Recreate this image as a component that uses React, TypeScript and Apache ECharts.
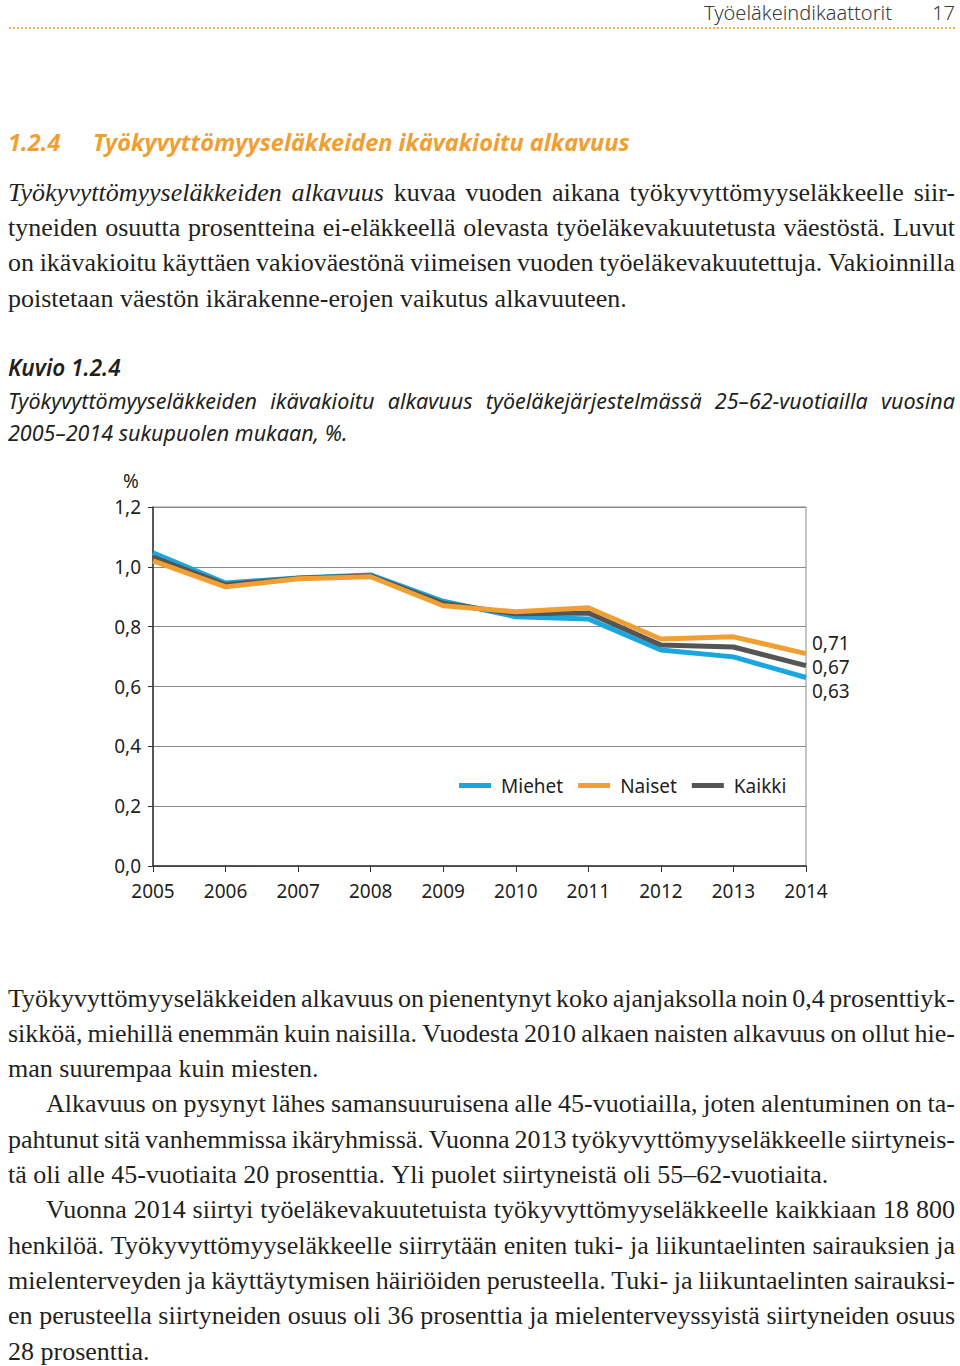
import React, { useEffect, useRef } from "react";
import * as echarts from "echarts";

const years = ["2005", "2006", "2007", "2008", "2009", "2010", "2011", "2012", "2013", "2014"];
const miehet = [1.047, 0.946, 0.963, 0.973, 0.885, 0.833, 0.826, 0.722, 0.699, 0.63];
const naiset = [1.02, 0.933, 0.96, 0.967, 0.87, 0.85, 0.863, 0.759, 0.766, 0.71];
const kaikki = [1.033, 0.94, 0.962, 0.97, 0.878, 0.843, 0.846, 0.739, 0.732, 0.67];
const seriesNames = ["Miehet", "Naiset", "Kaikki"];

const headerText = "Työeläkeindikaattorit";
const pageNumber = "17";
const sectionNumber = "1.2.4";
const sectionTitle = "Työkyvyttömyyseläkkeiden ikävakioitu alkavuus";
const figureLabel = "Kuvio 1.2.4";
const captionLines = [
  "Työkyvyttömyyseläkkeiden ikävakioitu alkavuus työeläkejärjestelmässä 25–62-vuotiailla vuosina",
  "2005–2014 sukupuolen mukaan, %.",
];
// [text, italicPrefix, indent, justify]
const introLines: [string, string, boolean, boolean][] = [
  ["kuvaa vuoden aikana työkyvyttömyyseläkkeelle siir-", "Työkyvyttömyyseläkkeiden alkavuus", false, true],
  ["tyneiden osuutta prosentteina ei-eläkkeellä olevasta työeläkevakuutetusta väestöstä. Luvut", "", false, true],
  ["on ikävakioitu käyttäen vakioväestönä viimeisen vuoden työeläkevakuutettuja. Vakioinnilla", "", false, true],
  ["poistetaan väestön ikärakenne-erojen vaikutus alkavuuteen.", "", false, false],
];
const bodyLines: [string, string, boolean, boolean][] = [
  ["Työkyvyttömyyseläkkeiden alkavuus on pienentynyt koko ajanjaksolla noin 0,4 prosenttiyk-", "", false, true],
  ["sikköä, miehillä enemmän kuin naisilla. Vuodesta 2010 alkaen naisten alkavuus on ollut hie-", "", false, true],
  ["man suurempaa kuin miesten.", "", false, false],
  ["Alkavuus on pysynyt lähes samansuuruisena alle 45-vuotiailla, joten alentuminen on ta-", "", true, true],
  ["pahtunut sitä vanhemmissa ikäryhmissä. Vuonna 2013 työkyvyttömyyseläkkeelle siirtyneis-", "", false, true],
  ["tä oli alle 45-vuotiaita 20 prosenttia. Yli puolet siirtyneistä oli 55–62-vuotiaita.", "", false, false],
  ["Vuonna 2014 siirtyi työeläkevakuutetuista työkyvyttömyyseläkkeelle kaikkiaan 18 800", "", true, true],
  ["henkilöä. Työkyvyttömyyseläkkeelle siirrytään eniten tuki- ja liikuntaelinten sairauksien ja", "", false, true],
  ["mielenterveyden ja käyttäytymisen häiriöiden perusteella. Tuki- ja liikuntaelinten sairauksi-", "", false, true],
  ["en perusteella siirtyneiden osuus oli 36 prosenttia ja mielenterveyssyistä siirtyneiden osuus", "", false, true],
  ["28 prosenttia.", "", false, false],
];

const SERIF = '"Liberation Serif", "DejaVu Serif", serif';
const SANS = '"Noto Sans", "Open Sans", sans-serif';
const TEXT_COLOR = "#231f20";
const ORANGE = "#f0a033";
const BLUE = "#1aa7e0";
const GRAY = "#555555";

let measureCtx: CanvasRenderingContext2D | null = null;
function measure(text: string, font: string): number {
  if (!measureCtx) measureCtx = document.createElement("canvas").getContext("2d");
  if (!measureCtx) return text.length * 10;
  measureCtx.font = font;
  return measureCtx.measureText(text).width;
}

type Word = { w: string; italic: boolean };

function lineElements(
  words: Word[],
  x0: number,
  x1: number,
  y: number,
  size: number,
  family: string,
  justify: boolean,
  baseItalic: boolean,
  weight: string,
  color: string
): any[] {
  const fontOf = (it: boolean) => `${it ? "italic " : ""}${weight} ${size}px ${family}`;
  const widths = words.map((wd) => measure(wd.w, fontOf(wd.italic || baseItalic)));
  const total = widths.reduce((a, b) => a + b, 0);
  const spaceW = measure(" ", fontOf(baseItalic));
  const gap = justify && words.length > 1 ? (x1 - x0 - total) / (words.length - 1) : spaceW;
  const els: any[] = [];
  let x = x0;
  words.forEach((wd, k) => {
    els.push({
      type: "text",
      x,
      y,
      style: {
        text: wd.w,
        fontSize: size,
        fontFamily: family,
        fontStyle: wd.italic || baseItalic ? "italic" : "normal",
        fontWeight: weight,
        fill: color,
        align: "left",
        verticalAlign: "middle",
        textAlign: "left",
        textVerticalAlign: "middle",
      },
    });
    x += widths[k] + gap;
  });
  return els;
}

function toWords(text: string, italicPrefix: string): Word[] {
  const out: Word[] = [];
  italicPrefix.split(" ").filter(Boolean).forEach((w) => out.push({ w, italic: true }));
  text.split(" ").filter(Boolean).forEach((w) => out.push({ w, italic: false }));
  return out;
}

const fmt = (v: number, d: number) => v.toFixed(d).replace(".", ",");

export default function App() {
  const ref = useRef<HTMLDivElement>(null);
  useEffect(() => {
    if (!ref.current) return;
    const chart = echarts.init(ref.current, undefined, { renderer: "svg" });
    const graphics: any[] = [];

    // header
    graphics.push({
      type: "text",
      x: 892,
      y: 12,
      style: { text: headerText, fontSize: 20, fontFamily: SANS, fontWeight: 300, fill: "#3a3a3a", align: "right", verticalAlign: "middle", textAlign: "right", textVerticalAlign: "middle" },
    });
    graphics.push({
      type: "text",
      x: 955,
      y: 12,
      style: { text: pageNumber, fontSize: 20, fontFamily: SANS, fontWeight: 300, fill: "#3a3a3a", align: "right", verticalAlign: "middle", textAlign: "right", textVerticalAlign: "middle" },
    });
    graphics.push({
      type: "line",
      shape: { x1: 9, y1: 28, x2: 955, y2: 28 },
      style: { stroke: "#efb44f", lineWidth: 2, lineDash: [2, 2] },
    });

    // section title
    graphics.push({
      type: "text",
      x: 8,
      y: 142,
      style: { text: sectionNumber, fontSize: 23.5, fontFamily: SANS, fontWeight: "bold", fontStyle: "italic", fill: ORANGE, align: "left", verticalAlign: "middle", textAlign: "left", textVerticalAlign: "middle" },
    });
    graphics.push({
      type: "text",
      x: 93,
      y: 142,
      style: { text: sectionTitle, fontSize: 23.5, fontFamily: SANS, fontWeight: "bold", fontStyle: "italic", fill: ORANGE, align: "left", verticalAlign: "middle", textAlign: "left", textVerticalAlign: "middle" },
    });

    // intro paragraph
    introLines.forEach((ln, i) => {
      graphics.push(
        ...lineElements(toWords(ln[0], ln[1]), ln[2] ? 46 : 8, 955, 192 + i * 35.4, 26, SERIF, ln[3], false, "normal", TEXT_COLOR)
      );
    });

    // figure label + caption
    graphics.push({
      type: "text",
      x: 8,
      y: 367,
      style: { text: figureLabel, fontSize: 22.5, fontFamily: SANS, fontWeight: 600, fontStyle: "italic", fill: TEXT_COLOR, align: "left", verticalAlign: "middle", textAlign: "left", textVerticalAlign: "middle" },
    });
    captionLines.forEach((t, i) => {
      graphics.push(...lineElements(toWords(t, ""), 8, 955, 400 + i * 32.5, 21.5, SANS, i === 0, true, "normal", TEXT_COLOR));
    });

    // % label
    graphics.push({
      type: "text",
      x: 131,
      y: 481,
      style: { text: "%", fontSize: 19, fontFamily: SANS, fill: TEXT_COLOR, align: "center", verticalAlign: "middle", textAlign: "center", textVerticalAlign: "middle" },
    });

    // body
    bodyLines.forEach((ln, i) => {
      graphics.push(
        ...lineElements(toWords(ln[0], ln[1]), ln[2] ? 46 : 8, 955, 998 + i * 35.3, 26, SERIF, ln[3], false, "normal", TEXT_COLOR)
      );
    });

    const mkSeries = (name: string, data: number[], color: string, z: number, dy: number) => ({
      name,
      type: "line",
      data,
      z,
      symbol: "none",
      lineStyle: { color, width: 5 },
      itemStyle: { color },
      endLabel: {
        show: true,
        formatter: (p: any) => fmt(p.value, 2),
        fontSize: 19,
        fontFamily: SANS,
        color: TEXT_COLOR,
        distance: 6,
        offset: [0, dy],
      },
    });

    chart.setOption({
      animation: false,
      backgroundColor: "#ffffff",
      grid: { left: 153, right: 154, top: 507, bottom: 500, show: true, borderColor: "#8a8a8a", borderWidth: 1 },
      legend: {
        data: seriesNames,
        left: 454,
        top: 771,
        icon: "rect",
        itemWidth: 32,
        itemHeight: 5,
        itemGap: 15,
        textStyle: { fontSize: 19, fontFamily: SANS, color: TEXT_COLOR, padding: [0, 0, 0, 5] },
      },
      xAxis: {
        type: "category",
        data: years,
        boundaryGap: false,
        axisLine: { lineStyle: { color: "#333", width: 1.5 } },
        axisTick: { show: true, length: 6, lineStyle: { color: "#333" } },
        axisLabel: { fontSize: 19, fontFamily: SANS, color: TEXT_COLOR, margin: 15 },
        splitLine: { show: false },
      },
      yAxis: {
        type: "value",
        min: 0,
        max: 1.2,
        interval: 0.2,
        axisLine: { show: true, lineStyle: { color: "#333", width: 1.5 } },
        axisTick: { show: true, length: 5, lineStyle: { color: "#333" } },
        axisLabel: { fontSize: 19, fontFamily: SANS, color: TEXT_COLOR, margin: 12, formatter: (v: number) => fmt(v, 1) },
        splitLine: { show: true, lineStyle: { color: "#8a8a8a", width: 1 } },
      },
      series: [
        mkSeries(seriesNames[0], miehet, BLUE, 2, 13),
        mkSeries(seriesNames[1], naiset, ORANGE, 4, -11),
        mkSeries(seriesNames[2], kaikki, GRAY, 3, 1),
      ],
      graphic: { elements: graphics },
    });
    return () => chart.dispose();
  }, []);
  return (
    <div
      ref={ref}
      style={{ position: "absolute", left: 0, top: 0, width: 960, height: 1366, background: "#fff" }}
    />
  );
}
